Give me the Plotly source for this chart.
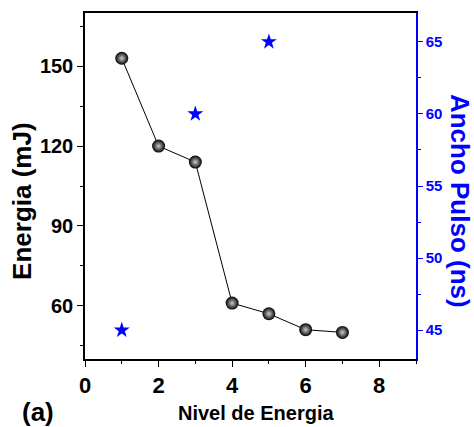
import plotly.graph_objects as go

nivel = [1, 2, 3, 4, 5, 6, 7]
energia = [153, 120, 114, 61, 57, 51, 50]
nivel_pulso = [1, 3, 5]
ancho_pulso = [45, 60, 65]

FONT = "Liberation Sans, Arial, sans-serif"

fig = go.Figure()
fig.add_trace(go.Scatter(
    x=nivel, y=energia, mode="lines+markers",
    line=dict(color="black", width=1),
    marker=dict(size=13, color="black",
                gradient=dict(type="radial", color="#cccccc"),
                line=dict(width=0)),
    yaxis="y", showlegend=False))
fig.add_trace(go.Scatter(
    x=nivel_pulso, y=ancho_pulso, mode="markers",
    marker=dict(symbol="star", size=12, color="blue", line=dict(width=0)),
    yaxis="y2", showlegend=False))

L, R, T, B = 85, 58, 11, 68
W, H = 474, 427
fig.update_layout(
    width=W, height=H,
    margin=dict(l=L, r=R, t=T, b=B),
    paper_bgcolor="white", plot_bgcolor="white",
    xaxis=dict(range=[0, 9], dtick=2, tick0=0, ticks="outside", ticklen=6,
               tickwidth=1, tickcolor="black", showline=True, linecolor="black",
               linewidth=1.5, mirror=True, showgrid=False, zeroline=False,
               tickfont=dict(family=FONT, size=22, color="black", weight="bold"),
               minor=dict(dtick=1, ticks="outside", ticklen=3, tickcolor="black")),
    yaxis=dict(range=[40, 170], dtick=30, tick0=0, ticks="outside", ticklen=6,
               tickcolor="black", showline=True, linecolor="black", linewidth=1.5,
               showgrid=False, zeroline=False,
               tickfont=dict(family=FONT, size=20, color="black", weight="bold"),
               minor=dict(dtick=15, tick0=0, ticks="outside", ticklen=3, tickcolor="black")),
    yaxis2=dict(range=[43, 67], dtick=5, tick0=0, overlaying="y", side="right",
                ticks="outside", ticklen=5, tickcolor="blue", showline=True,
                linecolor="blue", linewidth=1.5, showgrid=False, zeroline=False,
                tickfont=dict(family=FONT, size=15, color="blue", weight="bold"),
                minor=dict(dtick=2.5, tick0=0, ticks="outside", ticklen=3, tickcolor="blue")),
)

pw = W - L - R
ph = H - T - B


def ann(text, px, py, angle, size, color):
    fig.add_annotation(text=text, xref="paper", yref="paper",
                       x=(px - L) / pw, y=1 - (py - T) / ph,
                       xanchor="center", yanchor="middle", showarrow=False,
                       textangle=angle,
                       font=dict(family=FONT, size=size, color=color, weight="bold"))


ann("Energia (mJ)", 22, 200, -90, 26, "black")
ann("Ancho Pulso (ns)", 460, 200, 90, 26, "blue")
ann("Nivel de Energia", 256, 413, 0, 20, "black")
ann("(a)", 38, 412, 0, 26, "black")

fig.write_html("out.html", config={"displayModeBar": False},
               post_script="document.body.style.margin='0';document.body.style.overflow='hidden';")
